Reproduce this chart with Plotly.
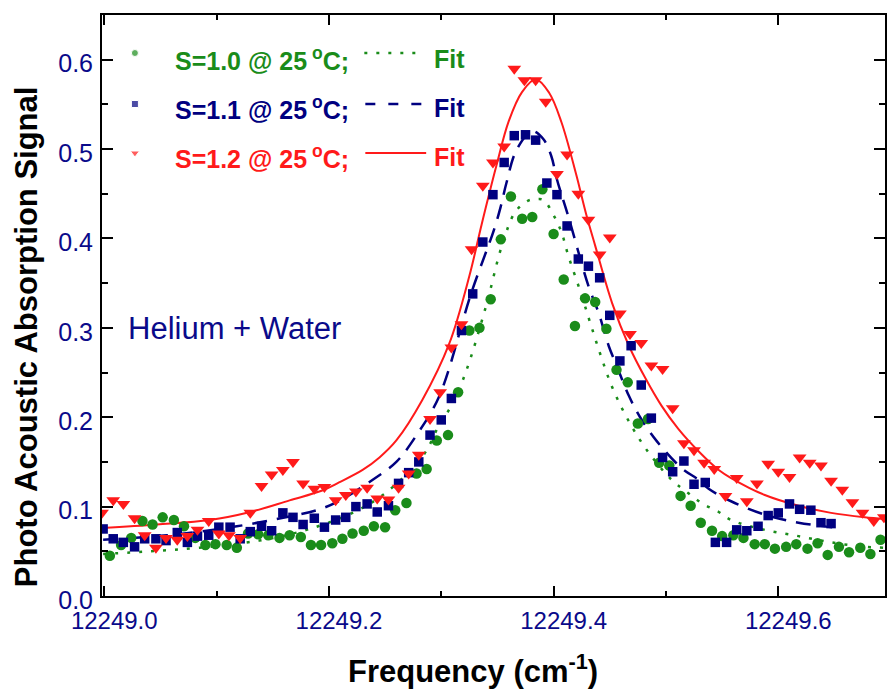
import plotly.graph_objects as go

# ---------------- data ----------------
s10_x = [12249.005, 12249.015, 12249.024, 12249.034, 12249.043, 12249.052, 12249.062, 12249.071,
         12249.081, 12249.090, 12249.099, 12249.109, 12249.118, 12249.128, 12249.137, 12249.146,
         12249.156, 12249.165, 12249.175, 12249.184, 12249.193, 12249.203, 12249.212, 12249.221,
         12249.231, 12249.240, 12249.250, 12249.259, 12249.269, 12249.278, 12249.287, 12249.296,
         12249.306, 12249.315, 12249.325, 12249.334, 12249.344, 12249.353, 12249.362, 12249.372,
         12249.381, 12249.390, 12249.400, 12249.409, 12249.419, 12249.428, 12249.437, 12249.447,
         12249.456, 12249.466, 12249.475, 12249.484, 12249.494, 12249.503, 12249.513, 12249.522,
         12249.531, 12249.541, 12249.550, 12249.560, 12249.569, 12249.579, 12249.588, 12249.597,
         12249.607, 12249.616, 12249.626, 12249.635, 12249.644, 12249.654, 12249.663, 12249.673,
         12249.682, 12249.691]
s10_y = [0.045, 0.057, 0.065, 0.084, 0.080, 0.088, 0.085, 0.078,
         0.065, 0.057, 0.058, 0.057, 0.054, 0.070, 0.069, 0.068,
         0.065, 0.068, 0.066, 0.057, 0.057, 0.059, 0.064, 0.070,
         0.073, 0.078, 0.077, 0.096, 0.104, 0.137, 0.142, 0.174,
         0.180, 0.228, 0.297, 0.300, 0.332, 0.399, 0.447, 0.422,
         0.424, 0.455, 0.405, 0.354, 0.302, 0.333, 0.329, 0.299,
         0.253, 0.239, 0.193, 0.198, 0.149, 0.146, 0.112, 0.101,
         0.082, 0.073, 0.067, 0.068, 0.065, 0.058, 0.058, 0.053,
         0.055, 0.058, 0.053, 0.059, 0.046, 0.055, 0.049, 0.054,
         0.047, 0.063]

s11_x = [12248.999, 12249.008, 12249.017, 12249.027, 12249.036, 12249.046, 12249.055, 12249.065,
         12249.074, 12249.083, 12249.093, 12249.102, 12249.112, 12249.121, 12249.130, 12249.140,
         12249.149, 12249.159, 12249.168, 12249.177, 12249.187, 12249.196, 12249.206, 12249.215,
         12249.224, 12249.234, 12249.243, 12249.253, 12249.262, 12249.271, 12249.280, 12249.290,
         12249.300, 12249.309, 12249.318, 12249.328, 12249.337, 12249.346, 12249.356, 12249.365,
         12249.375, 12249.384, 12249.394, 12249.403, 12249.412, 12249.422, 12249.431, 12249.441,
         12249.450, 12249.459, 12249.469, 12249.478, 12249.487, 12249.497, 12249.506, 12249.516,
         12249.525, 12249.535, 12249.544, 12249.554, 12249.563, 12249.572, 12249.582, 12249.591,
         12249.600, 12249.610, 12249.619, 12249.629, 12249.638, 12249.647]
s11_y = [0.075, 0.064, 0.060, 0.055, 0.064, 0.064, 0.062, 0.071,
         0.060, 0.067, 0.068, 0.077, 0.077, 0.064, 0.072, 0.078,
         0.073, 0.093, 0.088, 0.080, 0.087, 0.077, 0.085, 0.088,
         0.100, 0.103, 0.094, 0.101, 0.126, 0.138, 0.150, 0.180,
         0.197, 0.221, 0.297, 0.338, 0.396, 0.449, 0.485, 0.515,
         0.516, 0.510, 0.462, 0.449, 0.414, 0.377, 0.369, 0.356,
         0.314, 0.263, 0.280, 0.236, 0.199, 0.155, 0.139, 0.151,
         0.125, 0.127, 0.060, 0.060, 0.074, 0.073, 0.078, 0.090,
         0.093, 0.103, 0.097, 0.096, 0.082, 0.081]

s12_x = [12248.998, 12249.008, 12249.017, 12249.027, 12249.036, 12249.046, 12249.055, 12249.065,
         12249.074, 12249.083, 12249.093, 12249.102, 12249.111, 12249.121, 12249.130, 12249.140,
         12249.149, 12249.159, 12249.168, 12249.177, 12249.187, 12249.196, 12249.206, 12249.215,
         12249.224, 12249.234, 12249.243, 12249.253, 12249.262, 12249.271, 12249.280, 12249.290,
         12249.299, 12249.309, 12249.318, 12249.327, 12249.337, 12249.346, 12249.356, 12249.365,
         12249.374, 12249.384, 12249.393, 12249.403, 12249.412, 12249.422, 12249.431, 12249.441,
         12249.450, 12249.459, 12249.468, 12249.478, 12249.487, 12249.497, 12249.506, 12249.516,
         12249.525, 12249.534, 12249.543, 12249.553, 12249.563, 12249.572, 12249.581, 12249.591,
         12249.600, 12249.610, 12249.619, 12249.628, 12249.638, 12249.647, 12249.657, 12249.666,
         12249.675, 12249.685, 12249.694]
s12_y = [0.093, 0.107, 0.103, 0.087, 0.068, 0.054, 0.065, 0.063,
         0.067, 0.074, 0.084, 0.070, 0.068, 0.065, 0.093, 0.123,
         0.136, 0.141, 0.150, 0.126, 0.120, 0.122, 0.107, 0.113,
         0.117, 0.121, 0.109, 0.108, 0.121, 0.137, 0.158, 0.198,
         0.228, 0.278, 0.304, 0.388, 0.459, 0.485, 0.503, 0.590,
         0.577, 0.577, 0.553, 0.472, 0.494, 0.450, 0.421, 0.382,
         0.401, 0.316, 0.293, 0.283, 0.258, 0.254, 0.210, 0.171,
         0.163, 0.149, 0.142, 0.112, 0.132, 0.106, 0.126, 0.148,
         0.139, 0.133, 0.155, 0.149, 0.146, 0.129, 0.119, 0.105,
         0.093, 0.084, 0.088]

fit10_x = [12248.999, 12249.041, 12249.085, 12249.138, 12249.180, 12249.221, 12249.248, 12249.276,
           12249.287, 12249.298, 12249.310, 12249.322, 12249.340, 12249.354, 12249.366, 12249.377,
           12249.384, 12249.391, 12249.400, 12249.407, 12249.413, 12249.424, 12249.433, 12249.442,
           12249.452, 12249.465, 12249.482, 12249.505, 12249.520, 12249.533, 12249.547, 12249.558,
           12249.588, 12249.618, 12249.647, 12249.677, 12249.695]
fit10_y = [0.047, 0.050, 0.054, 0.062, 0.074, 0.093, 0.113, 0.145,
           0.163, 0.191, 0.215, 0.251, 0.325, 0.392, 0.430, 0.442,
           0.444, 0.443, 0.426, 0.407, 0.381, 0.340, 0.304, 0.269,
           0.234, 0.200, 0.165, 0.130, 0.115, 0.103, 0.094, 0.085,
           0.074, 0.067, 0.060, 0.055, 0.054]

fit11_x = [12248.999, 12249.056, 12249.118, 12249.165, 12249.189, 12249.207, 12249.239, 12249.260,
           12249.278, 12249.298, 12249.327, 12249.347, 12249.353, 12249.358, 12249.367, 12249.381,
           12249.391, 12249.398, 12249.403, 12249.413, 12249.431, 12249.440, 12249.449, 12249.456,
           12249.467, 12249.477, 12249.492, 12249.514, 12249.529, 12249.538, 12249.558, 12249.588,
           12249.618, 12249.648]
fit11_y = [0.063, 0.068, 0.078, 0.089, 0.096, 0.105, 0.130, 0.150,
           0.180, 0.223, 0.340, 0.410, 0.436, 0.462, 0.499, 0.520,
           0.511, 0.492, 0.466, 0.425, 0.347, 0.317, 0.280, 0.258,
           0.224, 0.200, 0.173, 0.143, 0.130, 0.120, 0.106, 0.091,
           0.082, 0.077]

fit12_x = [12248.998, 12249.047, 12249.094, 12249.130, 12249.165, 12249.194, 12249.209, 12249.230,
           12249.245, 12249.260, 12249.283, 12249.307, 12249.325, 12249.336, 12249.349, 12249.360,
           12249.372, 12249.384, 12249.396, 12249.407, 12249.420, 12249.429, 12249.437, 12249.452,
           12249.467, 12249.482, 12249.496, 12249.511, 12249.529, 12249.547, 12249.558, 12249.588,
           12249.618, 12249.647, 12249.677, 12249.695]
fit12_y = [0.076, 0.080, 0.085, 0.094, 0.107, 0.118, 0.127, 0.141,
           0.155, 0.174, 0.219, 0.282, 0.358, 0.416, 0.481, 0.531,
           0.564, 0.578, 0.563, 0.530, 0.472, 0.427, 0.392, 0.328,
           0.280, 0.243, 0.213, 0.187, 0.162, 0.141, 0.132, 0.113,
           0.101, 0.093, 0.088, 0.086]

x_ticks = [12249.0, 12249.2, 12249.4, 12249.6]
x_tick_text = ["12249.0", "12249.2", "12249.4", "12249.6"]
y_ticks = [0.0, 0.1, 0.2, 0.3, 0.4, 0.5, 0.6]
y_tick_text = ["0.0", "0.1", "0.2", "0.3", "0.4", "0.5", "0.6"]

legend_labels = ["S=1.0 @ 25<sup> o</sup>C;", "S=1.1 @ 25<sup> o</sup>C;", "S=1.2 @ 25<sup> o</sup>C;"]

# ---------------- style ----------------
GREEN = "#1a8c1a"
NAVY = "#000080"
RED = "#ff1a1a"
TXT_NAVY = "#0a0a8a"
FONT = "Liberation Sans, Arial, sans-serif"

PLOT_L, PLOT_R, PLOT_T, PLOT_B = 102, 887, 15, 596

fig = go.Figure()

# fit curves
fig.add_trace(go.Scatter(x=fit10_x, y=fit10_y, mode="lines", line_shape="spline",
                         line=dict(color=GREEN, width=2.5, dash="3px,9px"), showlegend=False))
fig.add_trace(go.Scatter(x=fit11_x, y=fit11_y, mode="lines", line_shape="spline",
                         line=dict(color=NAVY, width=2.5, dash="15px,10px"), showlegend=False))
fig.add_trace(go.Scatter(x=fit12_x, y=fit12_y, mode="lines", line_shape="spline",
                         line=dict(color=RED, width=2), showlegend=False))

# data points
fig.add_trace(go.Scatter(x=s10_x, y=s10_y, mode="markers",
                         marker=dict(symbol="circle", size=10.5, color=GREEN), showlegend=False))
fig.add_trace(go.Scatter(x=s11_x, y=s11_y, mode="markers",
                         marker=dict(symbol="square", size=9.5, color=NAVY), showlegend=False))
fig.add_trace(go.Scatter(x=s12_x, y=s12_y, mode="markers",
                         marker=dict(symbol="triangle-down", size=12, color=RED), showlegend=False))

# legend glyphs on a pixel-mapped overlay axis
fig.add_trace(go.Scatter(x=[135, 135, 135], y=[53, 104, 153], mode="markers", xaxis="x2", yaxis="y2",
                         marker=dict(symbol=["circle", "square", "triangle-down"], size=[7, 7, 8],
                                     color=[GREEN, NAVY, RED]), showlegend=False, hoverinfo="skip"))

shapes = [
    dict(type="line", xref="x2", yref="y2", x0=365, x1=417, y0=53, y1=53,
         line=dict(color=GREEN, width=2.5, dash="3px,9px")),
    dict(type="line", xref="x2", yref="y2", x0=366, x1=427, y0=104, y1=104,
         line=dict(color=NAVY, width=2.5, dash="10px,13px")),
    dict(type="line", xref="x2", yref="y2", x0=366, x1=427, y0=153, y1=153,
         line=dict(color=RED, width=2)),
]

annotations = []
for lab, col, yy in zip(legend_labels, [GREEN, NAVY, RED], [59, 108, 157]):
    annotations.append(dict(x=173, y=yy, xref="x2", yref="y2", text="<b>" + lab + "</b>",
                            showarrow=False, xanchor="left", yanchor="middle",
                            font=dict(family=FONT, size=25, color=col)))
    annotations.append(dict(x=433, y=yy, xref="x2", yref="y2", text="<b>Fit</b>",
                            showarrow=False, xanchor="left", yanchor="middle",
                            font=dict(family=FONT, size=25, color=col)))

annotations.append(dict(x=126, y=328, xref="x2", yref="y2", text="Helium + Water",
                        showarrow=False, xanchor="left", yanchor="middle",
                        font=dict(family=FONT, size=31, color=TXT_NAVY)))

W = PLOT_R - PLOT_L
H = PLOT_B - PLOT_T
# axis titles (paper coordinates)
annotations.append(dict(x=(26 - PLOT_L) / W, y=(PLOT_B - 337) / H, xref="paper", yref="paper",
                        text="<b>Photo Acoustic Absorption Signal</b>",
                        textangle=-90, showarrow=False, xanchor="center", yanchor="middle",
                        font=dict(family=FONT, size=31, color="black")))
annotations.append(dict(x=(474 - PLOT_L) / W, y=(PLOT_B - 669) / H, xref="paper", yref="paper",
                        text="<b>Frequency (cm<sup>-1</sup>)</b>",
                        showarrow=False, xanchor="center", yanchor="middle",
                        font=dict(family=FONT, size=31, color="black")))

fig.update_layout(
    width=887, height=690,
    margin=dict(l=PLOT_L, r=887 - PLOT_R, t=PLOT_T, b=690 - PLOT_B),
    paper_bgcolor="white", plot_bgcolor="rgba(0,0,0,0)",
    showlegend=False,
    shapes=shapes, annotations=annotations,
    xaxis=dict(range=[12248.998, 12249.695], tickvals=x_ticks, ticktext=x_tick_text,
               ticks="inside", ticklen=10, tickwidth=1.5, tickcolor="black",
               showline=True, linecolor="black", linewidth=2, mirror="ticks",
               showgrid=False, zeroline=False, ticklabelstandoff=2, ticklabelshift=10,
               minor=dict(dtick=0.1, tick0=12249.0, ticks="inside", ticklen=5, tickwidth=1.5, tickcolor="black"),
               tickfont=dict(family=FONT, size=24, color=TXT_NAVY)),
    yaxis=dict(range=[0, 0.65], tickvals=y_ticks, ticktext=y_tick_text,
               ticks="inside", ticklen=11, tickwidth=1.5, tickcolor="black",
               showline=True, linecolor="black", linewidth=2, mirror="ticks",
               showgrid=False, zeroline=False, ticklabelstandoff=2, ticklabelshift=4,
               minor=dict(dtick=0.05, tick0=0, ticks="inside", ticklen=6, tickwidth=1.5, tickcolor="black"),
               tickfont=dict(family=FONT, size=25, color=TXT_NAVY)),
    xaxis2=dict(domain=[0, 1], range=[PLOT_L, PLOT_R], anchor="y2", visible=False, fixedrange=True),
    yaxis2=dict(domain=[0, 1], range=[PLOT_B, PLOT_T], anchor="x2", visible=False, fixedrange=True),
)

fig.write_html("out.html")
